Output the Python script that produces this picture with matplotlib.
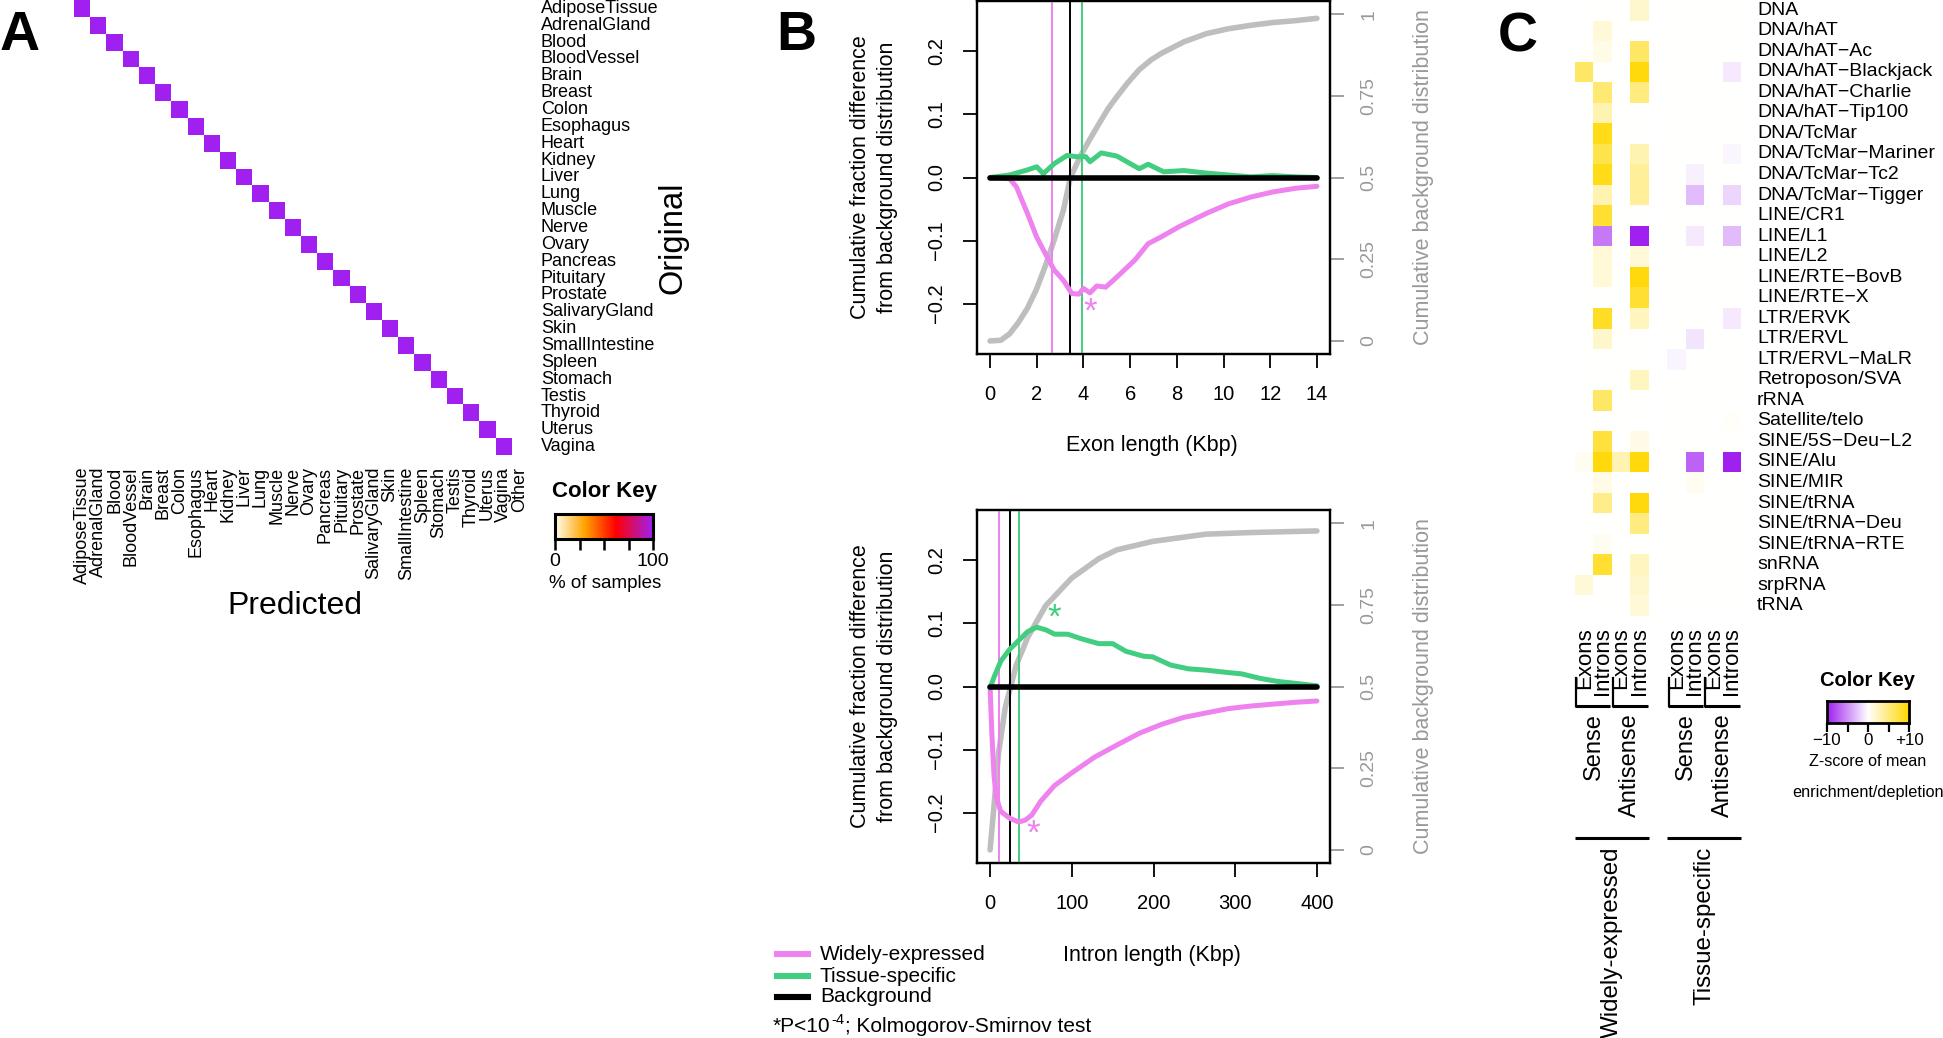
import numpy as np
import matplotlib
matplotlib.use('Agg')
import matplotlib.pyplot as plt
from matplotlib.colors import LinearSegmentedColormap
from matplotlib.lines import Line2D

plt.rcParams['font.family'] = ['Liberation Sans', 'DejaVu Sans']

# ---------------- data ----------------
# Panel A
tissues_original = ['AdiposeTissue', 'AdrenalGland', 'Blood', 'BloodVessel', 'Brain', 'Breast',
                    'Colon', 'Esophagus', 'Heart', 'Kidney', 'Liver', 'Lung', 'Muscle', 'Nerve',
                    'Ovary', 'Pancreas', 'Pituitary', 'Prostate', 'SalivaryGland', 'Skin',
                    'SmallIntestine', 'Spleen', 'Stomach', 'Testis', 'Thyroid', 'Uterus', 'Vagina']
tissues_predicted = tissues_original + ['Other']
pct_correct = [100, 100, 100, 100, 100, 100, 100, 100, 100, 100, 100, 100, 100, 100,
               100, 100, 100, 100, 100, 100, 100, 100, 100, 100, 100, 100, 100]

# Panel B (top): exon length
exon_bg_x = [0, 0.46, 0.84, 1.2, 1.6, 2.0, 2.37, 2.75, 3.14, 3.44, 3.9, 4.3, 4.67, 5.05, 5.43,
             5.9, 6.39, 6.9, 7.34, 8.3, 9.26, 10.2, 11.2, 12.1, 13.1, 14]
exon_bg_cdf = [0, 0.002, 0.022, 0.055, 0.10, 0.16, 0.23, 0.31, 0.40, 0.50, 0.57, 0.62, 0.665,
               0.71, 0.747, 0.79, 0.83, 0.86, 0.88, 0.915, 0.94, 0.955, 0.966, 0.974, 0.98, 0.987]
exon_we_x = [0, 0.84, 1.13, 1.6, 1.99, 2.37, 2.75, 3.14, 3.5, 3.8, 4.0, 4.28, 4.57, 4.95, 5.43,
             6.2, 6.77, 7.34, 8.1, 9.26, 10.2, 11.17, 12.1, 13.1, 14]
exon_we_diff = [0, -0.002, -0.015, -0.057, -0.094, -0.121, -0.147, -0.163, -0.184, -0.185,
                -0.176, -0.183, -0.172, -0.174, -0.158, -0.131, -0.105, -0.094, -0.078, -0.057,
                -0.042, -0.031, -0.023, -0.017, -0.014]
exon_ts_x = [0, 0.84, 1.6, 2.0, 2.28, 2.75, 3.3, 3.7, 4.1, 4.28, 4.76, 5.43, 6.0, 6.39, 6.77,
             7.44, 8.3, 9.26, 10.2, 11.17, 12.1, 13.1, 14]
exon_ts_diff = [0, 0.004, 0.012, 0.017, 0.006, 0.022, 0.035, 0.033, 0.033, 0.025, 0.039, 0.034,
                0.022, 0.014, 0.021, 0.009, 0.011, 0.007, 0.004, 0.001, 0.003, 0.001, 0]
exon_bgline_x = [0, 14]
exon_bgline_y = [0, 0]
exon_medians = [2.66, 3.44, 3.92]          # widely, background, tissue
exon_star_we = (4.28, -0.213)

# Panel B (bottom): intron length
intron_bg_x = [0, 4.9, 10.4, 18.6, 32, 46, 68, 100, 133, 155, 199, 264, 319, 400]
intron_bg_cdf = [0, 0.137, 0.297, 0.436, 0.565, 0.65, 0.747, 0.832, 0.891, 0.918, 0.944, 0.966,
                 0.971, 0.976]
intron_we_x = [0, 2.2, 4.9, 7.6, 13, 24, 35, 43, 51, 62, 79, 100, 128, 155, 183, 210, 237, 264,
               292, 319, 346, 374, 400]
intron_we_diff = [0, -0.076, -0.143, -0.176, -0.198, -0.209, -0.215, -0.212, -0.204, -0.182,
                  -0.157, -0.137, -0.112, -0.093, -0.074, -0.06, -0.049, -0.042, -0.035, -0.031,
                  -0.028, -0.025, -0.023]
intron_ts_x = [0, 4.9, 13, 24, 35, 46, 57, 68, 79, 95, 111, 133, 150, 166, 188, 199, 221, 243,
               264, 292, 308, 330, 352, 374, 400]
intron_ts_diff = [-0.002, 0.015, 0.04, 0.059, 0.073, 0.087, 0.094, 0.09, 0.083, 0.083, 0.076,
                  0.068, 0.068, 0.056, 0.048, 0.047, 0.034, 0.028, 0.026, 0.022, 0.02, 0.013,
                  0.008, 0.005, 0.001]
intron_bgline_x = [0, 400]
intron_bgline_y = [0, 0]
intron_medians = [11.5, 24, 35.5]
intron_star_we = (52.5, -0.234)
intron_star_ts = (78.7, 0.109)

# Panel C
repeat_classes = ['DNA', 'DNA/hAT', 'DNA/hAT\u2212Ac', 'DNA/hAT\u2212Blackjack', 'DNA/hAT\u2212Charlie',
                  'DNA/hAT\u2212Tip100', 'DNA/TcMar', 'DNA/TcMar\u2212Mariner', 'DNA/TcMar\u2212Tc2',
                  'DNA/TcMar\u2212Tigger', 'LINE/CR1', 'LINE/L1', 'LINE/L2', 'LINE/RTE\u2212BovB',
                  'LINE/RTE\u2212X', 'LTR/ERVK', 'LTR/ERVL', 'LTR/ERVL\u2212MaLR', 'Retroposon/SVA',
                  'rRNA', 'Satellite/telo', 'SINE/5S\u2212Deu\u2212L2', 'SINE/Alu', 'SINE/MIR',
                  'SINE/tRNA', 'SINE/tRNA\u2212Deu', 'SINE/tRNA\u2212RTE', 'snRNA', 'srpRNA', 'tRNA']
we_sense_exons = [0, 0, 0, 6, 0, 0, 0, 0, 0, 0, 0, 0, 0, 0, 0,
                  0, 0, 0, 0, 0, 0, 0, 0.5, 0, 0, 0, 0, 0, 1.5, 0]
we_sense_introns = [0, 1.5, 1, 0, 5.5, 3, 9, 7, 9, 3, 8, -6, 1.5, 1.5, 0,
                    8.5, 2, 0, 0, 6, 0, 7.5, 9.5, 1, 4.5, 0, 0.5, 8, 0, 0]
we_anti_exons = [0, 0, 0, 0, 0, 0, 0, 0, 0, 0, 0, 0, 0, 0, 0,
                 0, 0, 0, 0, 0, 0, 0, 3, 0, 0, 0, 0, 0, 0, 0]
we_anti_introns = [2, 0, 6, 9.5, 5, 0, 0, 3, 4, 4, 0, -10, 1.5, 9.5, 8,
                   2.5, 0, 0, 2.5, 0, 0, 1, 9.5, 0, 9.5, 5, 0, 2.5, 2, 1.5]
ts_sense_exons = [0, 0, 0, 0, 0, 0, 0, 0, 0, 0, 0, 0, 0, 0, 0,
                  0, 0, -0.5, 0, 0, 0, 0, 0, 0, 0, 0, 0, 0, 0, 0]
ts_sense_introns = [0, 0, 0, 0, 0, 0, 0, 0, -0.7, -3, 0, -1, 0, 0, 0,
                    0, -1.2, 0, 0, 0, 0, 0, -7, 0.5, 0, 0, 0, 0, 0, 0]
ts_anti_exons = [0] * 30
ts_anti_introns = [0, 0, 0, -1, 0, 0, 0, -0.4, 0, -1.8, 0, -3, 0, 0, 0,
                   -1, 0, 0, 0, 0, 0.3, 0, -10, 0, 0, 0, 0, 0, 0, 0]
c_col_labels = ['Exons', 'Introns', 'Exons', 'Introns', '', 'Exons', 'Introns', 'Exons', 'Introns']

# ---------------- figure helpers ----------------
W, H = 1943, 1038
fig = plt.figure(figsize=(W / 100, H / 100), dpi=100)
fig.patch.set_facecolor('white')


def add_ax(x0, y0, x1, y1):
    return fig.add_axes([x0 / W, 1 - y1 / H, (x1 - x0) / W, (y1 - y0) / H])


def ftext(x, y, s, **kw):
    return fig.text(x / W, 1 - y / H, s, **kw)


PURPLE = '#A020F0'
VIOLET = '#EE82EE'
GREEN = '#43CD80'
GRAYC = '#BEBEBE'
GRAYT = '#999999'

# ---------------- Panel A ----------------
cmapA = LinearSegmentedColormap.from_list('heatA', [(0, '#FFFFF0'), (0.3, '#FFA500'),
                                                    (0.62, '#FF0000'), (1, PURPLE)])
nr, nc = len(tissues_original), len(tissues_predicted)
MA = np.full((nr, nc), np.nan)
for i, v in enumerate(pct_correct):
    MA[i, i] = v
axA = add_ax(74, 0, 528, 455)
axA.pcolormesh(np.arange(nc + 1), np.arange(nr + 1), np.ma.masked_invalid(MA),
               cmap=cmapA, vmin=0, vmax=100)
axA.set_xlim(0, nc)
axA.set_ylim(nr, 0)
axA.axis('off')
for i, lab in enumerate(tissues_original):
    axA.text(nc + 0.8, i + 0.5, lab, ha='left', va='center', fontsize=13)
for j, lab in enumerate(tissues_predicted):
    axA.text(j + 0.5, nr + 0.7, lab, rotation=90, ha='center', va='top', fontsize=13)
ftext(673, 238, 'Original', rotation=90, ha='center', va='center', fontsize=23.5)
ftext(295, 606, 'Predicted', ha='center', va='center', fontsize=23)
ftext(0, 50, 'A', fontsize=40, fontweight='bold', ha='left', va='baseline')

# color key A
ftext(605, 491, 'Color Key', fontsize=16, fontweight='bold', ha='center', va='center')
cbA = add_ax(555, 514, 653, 539)
cbA.imshow(np.linspace(0, 100, 256)[None, :], cmap=cmapA, aspect='auto',
           extent=(0, 100, 0, 1), vmin=0, vmax=100)
cbA.set_yticks([])
cbA.set_xticks([0, 25, 50, 75, 100])
cbA.set_xticklabels(['0', '', '', '', '100'])
cbA.tick_params(axis='x', direction='out', length=8, width=1.8, labelsize=14, pad=2)
for s in cbA.spines.values():
    s.set_linewidth(2.2)
ftext(605, 584, '% of samples', fontsize=13.5, ha='center', va='center')

# ---------------- Panel B ----------------


def panel_B(y0, y1, xmax, xticks, bg_x, bg_cdf, we_x, we_d, ts_x, ts_d, bl_x, bl_y,
            medians, stars, xlabel, xlabel_y):
    ax2 = add_ax(977, y0, 1330, y1)
    ax = fig.add_axes(ax2.get_position(), sharex=ax2)
    ax.set_zorder(ax2.get_zorder() + 1)
    ax.patch.set_visible(False)
    # background cumulative (right axis)
    ax2.plot(bg_x, bg_cdf, color=GRAYC, lw=4.0, solid_capstyle='round')
    ax2.set_ylim(-0.04, 1.04)
    ax2.yaxis.tick_right()
    ax2.set_yticks([0, 0.25, 0.5, 0.75, 1])
    ax2.set_yticklabels(['0', '0.25', '0.5', '0.75', '1'], rotation=90, va='center')
    ax2.tick_params(axis='y', colors=GRAYT, direction='out', length=10, width=1.3,
                    labelsize=14, pad=12)
    ax2.tick_params(axis='x', bottom=False, labelbottom=False)
    # difference curves (left axis)
    ax.axvline(medians[0], color=VIOLET, lw=1.4)
    ax.axvline(medians[1], color='black', lw=1.4)
    ax.axvline(medians[2], color=GREEN, lw=1.4)
    ax.plot(we_x, we_d, color=VIOLET, lw=3.6, solid_capstyle='round')
    ax.plot(ts_x, ts_d, color=GREEN, lw=3.6, solid_capstyle='round')
    ax.plot(bl_x, bl_y, color='black', lw=4.0, solid_capstyle='round')
    for (sx, sy, col) in stars:
        ax.text(sx, sy, '*', color=col, fontsize=25, ha='center', va='center')
    ax.set_xlim(-0.04 * xmax, 1.04 * xmax)
    ax.set_ylim(-0.28, 0.28)
    ax.set_xticks(xticks)
    ax.set_yticks([-0.2, -0.1, 0, 0.1, 0.2])
    ax.set_yticklabels(['\u22120.2', '\u22120.1', '0.0', '0.1', '0.2'], rotation=90, va='center')
    ax.tick_params(axis='both', direction='out', length=10, width=1.3, labelsize=14.5, pad=12)
    ax.tick_params(axis='x', bottom=True, labelbottom=True)
    for a in (ax, ax2):
        for s in a.spines.values():
            s.set_linewidth(1.6)
    yc = (y0 + y1) / 2
    ftext(860, yc, 'Cumulative fraction difference', rotation=90, ha='center', va='center',
          fontsize=15.5)
    ftext(887, yc, 'from background distribution', rotation=90, ha='center', va='center',
          fontsize=15.5)
    ftext(1423, yc, 'Cumulative background distribution', rotation=90, ha='center',
          va='center', fontsize=15.5, color=GRAYT)
    ftext(1152, xlabel_y, xlabel, ha='center', va='center', fontsize=15.5)
    return ax


panel_B(1, 354, 14, list(range(0, 15, 2)), exon_bg_x, exon_bg_cdf, exon_we_x, exon_we_diff,
        exon_ts_x, exon_ts_diff, exon_bgline_x, exon_bgline_y, exon_medians,
        [(exon_star_we[0], exon_star_we[1], VIOLET)], 'Exon length (Kbp)', 446)
panel_B(510, 863, 400, [0, 100, 200, 300, 400], intron_bg_x, intron_bg_cdf, intron_we_x,
        intron_we_diff, intron_ts_x, intron_ts_diff, intron_bgline_x, intron_bgline_y,
        intron_medians, [(intron_star_we[0], intron_star_we[1], VIOLET),
                         (intron_star_ts[0], intron_star_ts[1], GREEN)],
        'Intron length (Kbp)', 955)
ftext(776, 50, 'B', fontsize=40, fontweight='bold', ha='left', va='baseline')

# legend
for (yy, col, lab) in [(954, VIOLET, 'Widely-expressed'), (976, GREEN, 'Tissue-specific'),
                       (997, 'black', 'Background')]:
    fig.add_artist(Line2D([777 / W, 808 / W], [1 - yy / H, 1 - yy / H], color=col, lw=4.4,
                          transform=fig.transFigure))
    ftext(820, yy, lab, ha='left', va='center', fontsize=15)

# footnote with a hyphen superscript
renderer = fig.canvas.get_renderer()
t1 = ftext(773, 1032, '*P<10', ha='left', va='baseline', fontsize=15)
bb = t1.get_window_extent(renderer)
t2 = fig.text(bb.x1 / W + 0.5 / W, 1 - 1024 / H, '-4', ha='left', va='baseline', fontsize=10.5)
bb2 = t2.get_window_extent(renderer)
fig.text(bb2.x1 / W + 0.5 / W, 1 - 1032 / H, '; Kolmogorov-Smirnov test', ha='left',
         va='baseline', fontsize=15)

# ---------------- Panel C ----------------
cmapC = LinearSegmentedColormap.from_list('heatC', [(0, PURPLE), (0.5, '#FFFFFF'),
                                                    (1, '#FFD700')])
cols = [we_sense_exons, we_sense_introns, we_anti_exons, we_anti_introns, None,
        ts_sense_exons, ts_sense_introns, ts_anti_exons, ts_anti_introns]
nrC = len(repeat_classes)
MC = np.full((nrC, len(cols)), np.nan)
for j, c in enumerate(cols):
    if c is not None:
        MC[:, j] = c
axC = add_ax(1575, 0, 1741, 616)
axC.pcolormesh(np.arange(len(cols) + 1), np.arange(nrC + 1), np.ma.masked_invalid(MC),
               cmap=cmapC, vmin=-10, vmax=10)
axC.set_xlim(0, len(cols))
axC.set_ylim(nrC, 0)
axC.axis('off')
for i, lab in enumerate(repeat_classes):
    axC.text(len(cols) + 0.87, i + 0.5, lab, ha='left', va='center', fontsize=14)
for j, lab in enumerate(c_col_labels):
    if lab:
        axC.text(j + 0.5, nrC + 0.54, lab, rotation=90, ha='center', va='top', fontsize=16)
# group brackets
for (a, b) in [(0.02, 1.92), (2.02, 3.95), (5.02, 6.92), (7.02, 8.95)]:
    axC.plot([a, b], [34.38, 34.38], color='black', lw=2.2, clip_on=False,
             solid_capstyle='butt')
    axC.plot([a + 0.05, a + 0.05], [33.02, 34.38], color='black', lw=1.6, clip_on=False)
for (xc, lab) in [(1.0, 'Sense'), (3.0, 'Antisense'), (6.0, 'Sense'), (8.0, 'Antisense')]:
    axC.text(xc, 34.72, lab, rotation=90, ha='center', va='top', fontsize=17)
for (a, b) in [(0.0, 4.0), (5.0, 9.0)]:
    axC.plot([a, b], [40.8, 40.8], color='black', lw=2.2, clip_on=False,
             solid_capstyle='butt')
axC.text(2.0, 41.24, 'Widely-expressed', rotation=90, ha='center', va='top', fontsize=17.4)
axC.text(7.0, 41.24, 'Tissue-specific', rotation=90, ha='center', va='top', fontsize=17.4)
ftext(1498, 52, 'C', fontsize=40, fontweight='bold', ha='left', va='baseline')

# color key C
ftext(1868, 680, 'Color Key', fontsize=14.5, fontweight='bold', ha='center', va='center')
cbC = add_ax(1827, 701, 1909, 723)
cbC.imshow(np.linspace(-10, 10, 256)[None, :], cmap=cmapC, aspect='auto',
           extent=(-10, 10, 0, 1), vmin=-10, vmax=10)
cbC.set_yticks([])
cbC.set_xticks([-10, -5, 0, 5, 10])
cbC.set_xticklabels(['\u221210', '', '0', '', '+10'])
cbC.tick_params(axis='x', direction='out', length=6.5, width=1.6, labelsize=12.2, pad=1)
for s in cbC.spines.values():
    s.set_linewidth(2.0)
ftext(1868, 762, 'Z-score of mean', fontsize=11.6, ha='center', va='center')
ftext(1868, 792, 'enrichment/depletion', fontsize=11.7, ha='center', va='center')

fig.savefig('out.png', dpi=100, facecolor='white')
